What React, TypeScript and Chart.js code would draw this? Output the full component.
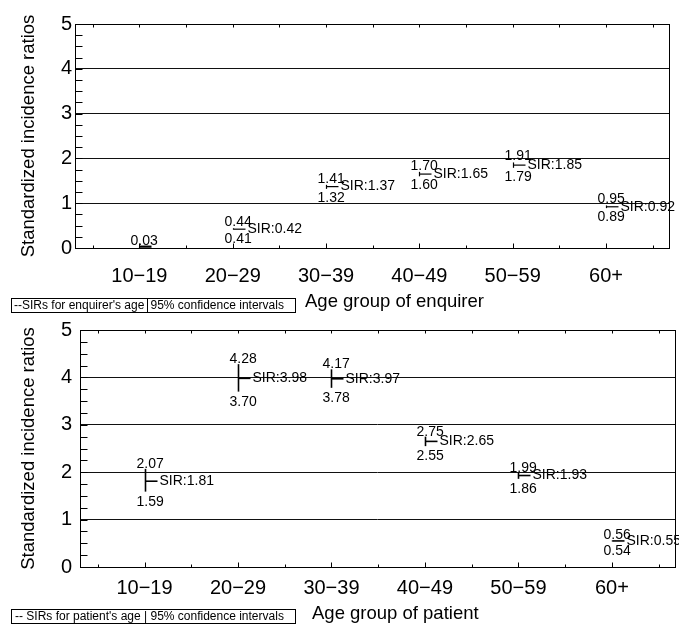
import React, { useEffect, useRef } from "react";
import { Chart, registerables } from "chart.js";

Chart.register(...registerables);

const FONT = "'Liberation Sans', Arial, Helvetica, sans-serif";

// Categories and tick labels
const ageGroups = ["10\u221219", "20\u221229", "30\u221239", "40\u221249", "50\u221259", "60+"];
const yTickValues = [0, 1, 2, 3, 4, 5];

// Panel 1: enquirer's age (null = label not shown)
const enquirerUpper: (number | null)[] = [0.03, 0.44, 1.41, 1.7, 1.91, 0.95];
const enquirerLower: (number | null)[] = [null, 0.41, 1.32, 1.6, 1.79, 0.89];
const enquirerSir: (number | null)[] = [null, 0.42, 1.37, 1.65, 1.85, 0.92];

// Panel 2: patient's age
const patientUpper: (number | null)[] = [2.07, 4.28, 4.17, 2.75, 1.99, 0.56];
const patientLower: (number | null)[] = [1.59, 3.7, 3.78, 2.55, 1.86, 0.54];
const patientSir: (number | null)[] = [1.81, 3.98, 3.97, 2.65, 1.93, 0.55];

const yTitle = "Standardized incidence ratios";

interface PanelSpec {
  canvasHeight: number;
  padTop: number;
  padRight: number;
  yWidth: number;
  xHeight: number;
  yTickPad: number;
  xTickPad: number;
  upper: (number | null)[];
  lower: (number | null)[];
  sir: (number | null)[];
  barWidth: number;
  upperGap: number;
  lowerGap: number;
  xTitle: string;
  xTitleX: number;
  xTitleY: number;
  legendY: number;
  legendLeft: string;
  legendRight: string;
  legendDividerLine: boolean;
}

const errorBarPlugin = {
  id: "errorBars",
  afterDatasetsDraw(chart: any, _args: any, opts: any) {
    const { ctx } = chart;
    const xs = chart.scales.x;
    const ys = chart.scales.y;
    const { upper, lower, sir, barWidth, upperGap, lowerGap } = opts;
    ctx.save();
    ctx.strokeStyle = "#000";
    ctx.fillStyle = "#000";
    ctx.font = `14px ${FONT}`;
    for (let i = 0; i < upper.length; i++) {
      const px = Math.round(xs.getPixelForValue(i + 1)) + 0.5;
      const u = upper[i];
      const l = lower[i];
      const s = sir[i];
      const yu = u != null ? ys.getPixelForValue(u) : null;
      const yl = l != null ? ys.getPixelForValue(l) : ys.getPixelForValue(0);
      ctx.lineWidth = barWidth;
      if (yu != null) {
        ctx.beginPath();
        ctx.moveTo(px, yu);
        ctx.lineTo(px, yl);
        ctx.stroke();
      }
      const sv = s != null ? s : u;
      if (sv != null) {
        const sy = ys.getPixelForValue(sv);
        ctx.lineWidth = s != null ? barWidth : 2.2;
        ctx.beginPath();
        ctx.moveTo(px, sy);
        ctx.lineTo(px + 12, sy);
        ctx.stroke();
        if (s != null) {
          ctx.textAlign = "left";
          ctx.textBaseline = "middle";
          ctx.fillText("SIR:" + s.toFixed(2), px + 14, sy);
        }
      }
      ctx.textAlign = "left";
      ctx.textBaseline = "alphabetic";
      if (u != null && yu != null) {
        ctx.fillText(u.toFixed(2), px - 9, yu - upperGap);
      }
      if (l != null) {
        ctx.fillText(l.toFixed(2), px - 9, yl + lowerGap);
      }
    }
    ctx.restore();
  },
};

const framePlugin = {
  id: "frameDecor",
  afterDraw(chart: any, _args: any, opts: any) {
    const { ctx, chartArea } = chart;
    const xs = chart.scales.x;
    const ys = chart.scales.y;
    const L = Math.round(chartArea.left) + 0.5;
    const R = Math.round(chartArea.right) + 0.5;
    const T = Math.round(chartArea.top) + 0.5;
    const B = Math.round(chartArea.bottom) + 0.5;
    ctx.save();
    ctx.strokeStyle = "#000";
    ctx.lineWidth = 1;
    ctx.strokeRect(L, T, R - L, B - T);
    // minor y ticks (inward)
    ctx.beginPath();
    for (let v = 0.25; v < 5; v += 0.25) {
      const py = Math.round(ys.getPixelForValue(v)) + 0.5;
      ctx.moveTo(L, py);
      ctx.lineTo(L + 7, py);
    }
    // x ticks on bottom and top (inward)
    for (let v = 0.5; v <= 6.5; v += 0.5) {
      const px = Math.round(xs.getPixelForValue(v)) + 0.5;
      const len = Number.isInteger(v) ? 5 : 3;
      ctx.moveTo(px, B);
      ctx.lineTo(px, B - len);
      ctx.moveTo(px, T);
      ctx.lineTo(px, T + 3);
    }
    ctx.stroke();

    // x axis title
    ctx.fillStyle = "#000";
    ctx.font = `18.5px ${FONT}`;
    ctx.textAlign = "left";
    ctx.textBaseline = "alphabetic";
    ctx.fillText(opts.xTitle, opts.xTitleX, opts.xTitleY);

    // legend box
    const lx = 11.5;
    const ly = opts.legendY + 0.5;
    const lw = 284;
    const lh = 14;
    ctx.strokeRect(lx, ly, lw, lh);
    ctx.font = `12px ${FONT}`;
    ctx.textBaseline = "middle";
    if (opts.legendDividerLine) {
      ctx.fillText(opts.legendLeft, 14, ly + lh / 2 + 0.5);
      const w = ctx.measureText(opts.legendLeft).width;
      const dx = Math.round(14 + w + 3) + 0.5;
      ctx.beginPath();
      ctx.moveTo(dx, ly);
      ctx.lineTo(dx, ly + lh);
      ctx.stroke();
      ctx.fillText(opts.legendRight, dx + 3, ly + lh / 2 + 0.5);
    } else {
      ctx.fillText(opts.legendLeft + " | " + opts.legendRight, 15, ly + lh / 2 + 0.5);
    }
    ctx.restore();
  },
};

function Panel({ spec, top }: { spec: PanelSpec; top: number }) {
  const ref = useRef<HTMLCanvasElement>(null);
  useEffect(() => {
    const canvas = ref.current;
    if (!canvas) return;
    const chart = new Chart(canvas, {
      type: "scatter",
      data: {
        datasets: [
          {
            label: "SIR",
            data: spec.sir.map((v, i) => ({ x: i + 1, y: v ?? (spec.upper[i] as number) })),
            pointRadius: 0,
            showLine: false,
          },
        ],
      },
      options: {
        responsive: false,
        animation: false,
        devicePixelRatio: 1,
        layout: { padding: { top: spec.padTop, right: spec.padRight, left: 0, bottom: 0 } },
        plugins: {
          legend: { display: false },
          tooltip: { enabled: false },
          errorBars: {
            upper: spec.upper,
            lower: spec.lower,
            sir: spec.sir,
            barWidth: spec.barWidth,
            upperGap: spec.upperGap,
            lowerGap: spec.lowerGap,
          },
          frameDecor: {
            xTitle: spec.xTitle,
            xTitleX: spec.xTitleX,
            xTitleY: spec.xTitleY,
            legendY: spec.legendY,
            legendLeft: spec.legendLeft,
            legendRight: spec.legendRight,
            legendDividerLine: spec.legendDividerLine,
          },
        } as any,
        scales: {
          x: {
            type: "linear",
            min: 0.31,
            max: 6.675,
            grid: { display: false, drawTicks: false },
            border: { display: false },
            afterBuildTicks: (s: any) => {
              s.ticks = ageGroups.map((_, i) => ({ value: i + 1 }));
            },
            afterFit: (s: any) => {
              s.height = spec.xHeight;
            },
            ticks: {
              callback: (v: any) => ageGroups[Math.round(Number(v)) - 1],
              font: { family: FONT, size: 20 },
              color: "#000",
              padding: spec.xTickPad,
              maxRotation: 0,
              autoSkip: false,
            },
          },
          y: {
            type: "linear",
            min: 0,
            max: 5,
            afterBuildTicks: (s: any) => {
              s.ticks = yTickValues.map((v) => ({ value: v }));
            },
            afterFit: (s: any) => {
              s.width = spec.yWidth;
            },
            grid: { color: "#111", lineWidth: 1, drawTicks: false },
            border: { display: false },
            ticks: {
              font: { family: FONT, size: 20 },
              color: "#000",
              padding: spec.yTickPad,
            },
            title: {
              display: true,
              text: yTitle,
              font: { family: FONT, size: 18.5 },
              color: "#000",
              padding: { top: 18, bottom: 0 },
            },
          },
        },
      } as any,
      plugins: [errorBarPlugin, framePlugin],
    });
    return () => chart.destroy();
  }, [spec]);
  return (
    <div style={{ position: "absolute", left: 0, top, width: 679, height: spec.canvasHeight }}>
      <canvas ref={ref} width={679} height={spec.canvasHeight} style={{ display: "block" }} />
    </div>
  );
}

const topSpec: PanelSpec = {
  canvasHeight: 318,
  padTop: 24,
  padRight: 10,
  yWidth: 75,
  xHeight: 70,
  yTickPad: 3,
  xTickPad: 16,
  upper: enquirerUpper,
  lower: enquirerLower,
  sir: enquirerSir,
  barWidth: 1.2,
  upperGap: 2,
  lowerGap: 13,
  xTitle: "Age group of enquirer",
  xTitleX: 305,
  xTitleY: 307,
  legendY: 298,
  legendLeft: "--SIRs for enquirer's age",
  legendRight: "95% confidence intervals",
  legendDividerLine: true,
};

const bottomSpec: PanelSpec = {
  canvasHeight: 315,
  padTop: 17,
  padRight: 4,
  yWidth: 80,
  xHeight: 58,
  yTickPad: 8,
  xTickPad: 9,
  upper: patientUpper,
  lower: patientLower,
  sir: patientSir,
  barWidth: 1.6,
  upperGap: 1,
  lowerGap: 14,
  xTitle: "Age group of patient",
  xTitleX: 312,
  xTitleY: 309,
  legendY: 299,
  legendLeft: "-- SIRs for patient's age",
  legendRight: "95% confidence intervals",
  legendDividerLine: false,
};

export default function App() {
  return (
    <div style={{ position: "fixed", left: 0, top: 0, width: 679, height: 625, background: "#fff", overflow: "hidden" }}>
      <Panel spec={topSpec} top={0} />
      <Panel spec={bottomSpec} top={310} />
    </div>
  );
}
